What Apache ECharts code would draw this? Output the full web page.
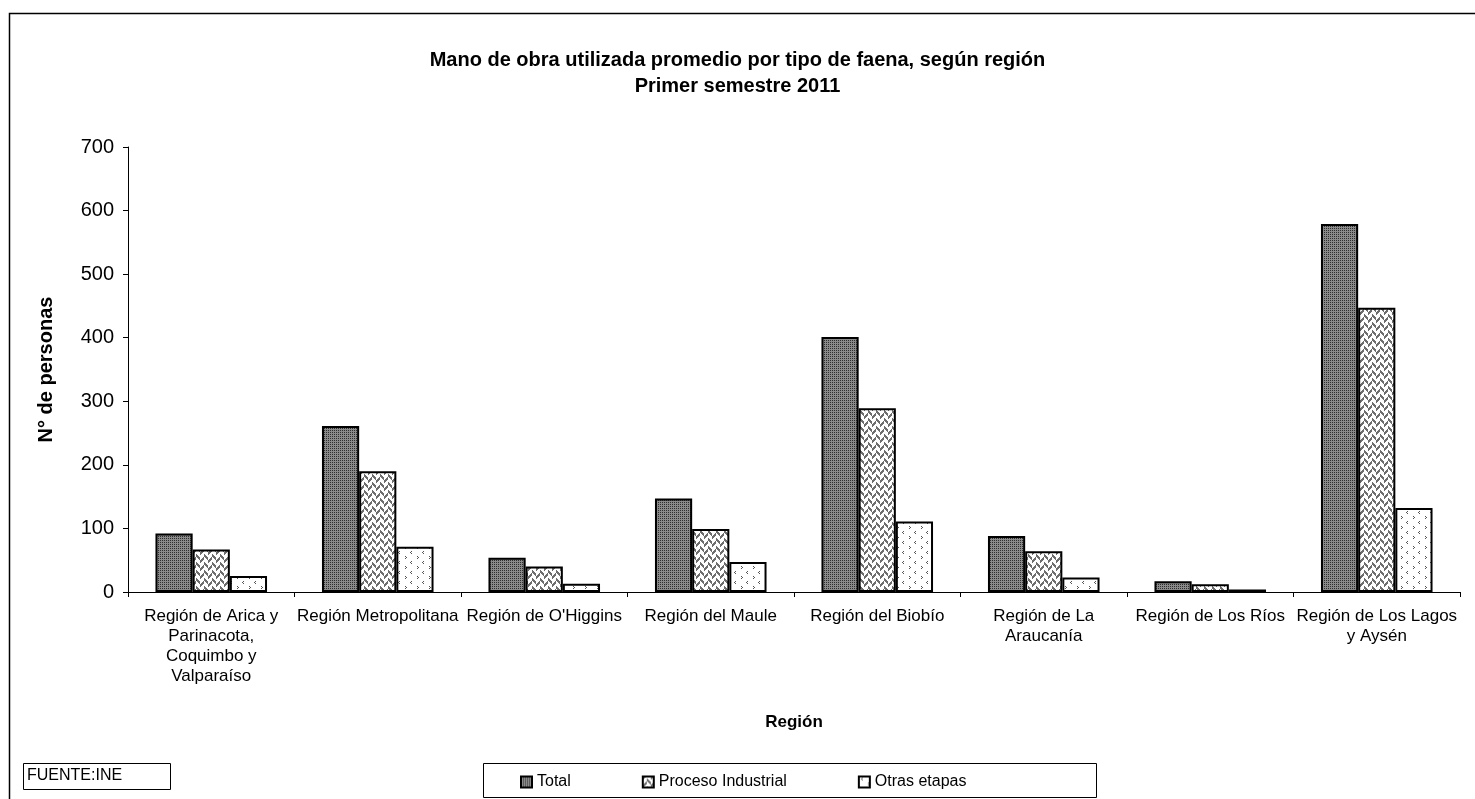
<!DOCTYPE html>
<html>
<head>
<meta charset="utf-8">
<script src="https://cdn.jsdelivr.net/npm/echarts@6/dist/echarts.min.js"></script>
<style>html,body{margin:0;padding:0;background:#fff}#c{width:1475px;height:799px}</style>
</head>
<body>
<div id="c"></div>
<script>
const categories = [
  'Región de Arica y\nParinacota,\nCoquimbo y\nValparaíso',
  'Región Metropolitana',
  "Región de O'Higgins",
  'Región del Maule',
  'Región del Biobío',
  'Región de La\nAraucanía',
  'Región de Los Ríos',
  'Región de Los Lagos\ny Aysén'
];
const seriesNames = ['Total', 'Proceso Industrial', 'Otras etapas'];
const total = [92, 261, 54, 147, 401, 88, 17, 579];
const procesoIndustrial = [67, 190, 40, 99, 289, 64, 12, 447];
const otrasEtapas = [25, 71, 13, 47, 111, 23, 4, 132];
const yTicks = { min: 0, max: 700, interval: 100 };

function makePattern(w, h, bg, fg, fn) {
  const c = document.createElement('canvas');
  c.width = w; c.height = h;
  const ctx = c.getContext('2d');
  ctx.fillStyle = bg; ctx.fillRect(0, 0, w, h);
  ctx.fillStyle = fg;
  for (let y = 0; y < h; y++) for (let x = 0; x < w; x++) if (fn(x, y)) ctx.fillRect(x, y, 1, 1);
  return { image: c, repeat: 'repeat' };
}
const patTotal = makePattern(2, 2, '#8a8a8a', '#2e2e2e', (x, y) => x === 0 && y === 0);
const patProceso = makePattern(8, 8, '#ffffff', '#6e6e6e', (x, y) =>
  (x < 4 && ((x + y) % 8 < 3)) || (x >= 4 && (((x - y) % 8 + 8) % 8 < 3)));
const otrasPts = [[3,1],[2,2],[3,3],[9,6],[10,7],[9,8]];
const patOtras = makePattern(12, 10, '#ffffff', '#555555', (x, y) => otrasPts.some(p => p[0] === x && p[1] === y));

const chart = echarts.init(document.getElementById('c'), null, { renderer: 'canvas' });
const barStyle = (pat) => ({ color: pat, borderColor: '#000', borderWidth: 2 });
const font = 'Liberation Sans, Arial, sans-serif';
chart.setOption({
  animation: false,
  backgroundColor: '#fff',
  textStyle: { fontFamily: font, color: '#000' },
  title: {
    text: 'Mano de obra utilizada promedio por tipo de faena, según región\nPrimer semestre 2011',
    left: 'center', top: 42,
    textStyle: { fontFamily: font, fontSize: 20, fontWeight: 'bold', color: '#000', lineHeight: 26 }
  },
  grid: { left: 128, right: 15, top: 147, bottom: 207, containLabel: false },
  legend: {
    data: seriesNames,
    left: 515, top: 769,
    itemWidth: 11, itemHeight: 11, itemGap: 71,
    textStyle: { fontFamily: font, fontSize: 16, color: '#000' },
    icon: 'rect',
    selectedMode: false
  },
  xAxis: {
    type: 'category',
    data: categories,
    name: 'Región',
    nameLocation: 'middle',
    nameGap: 122,
    nameTextStyle: { fontFamily: font, fontSize: 17, fontWeight: 'bold', color: '#000' },
    axisLine: { lineStyle: { color: '#000', width: 1 } },
    axisTick: { show: true, length: 5, lineStyle: { color: '#000' } },
    axisLabel: { interval: 0, fontFamily: font, fontSize: 17, color: '#000', lineHeight: 20, margin: 14 }
  },
  yAxis: {
    type: 'value',
    min: yTicks.min, max: yTicks.max, interval: yTicks.interval,
    name: 'N° de personas',
    nameLocation: 'middle',
    nameGap: 72,
    nameRotate: 90,
    nameTextStyle: { fontFamily: font, fontSize: 20, fontWeight: 'bold', color: '#000' },
    axisLine: { show: true, lineStyle: { color: '#000', width: 1 } },
    axisTick: { show: true, length: 5, lineStyle: { color: '#000' } },
    splitLine: { show: false },
    axisLabel: { fontFamily: font, fontSize: 20, color: '#000', margin: 14 }
  },
  series: [
    { name: seriesNames[0], type: 'bar', data: total, barGap: '0%', barCategoryGap: '33%', itemStyle: barStyle(patTotal), emphasis: { disabled: true } },
    { name: seriesNames[1], type: 'bar', data: procesoIndustrial, barGap: '0%', barCategoryGap: '33%', itemStyle: barStyle(patProceso), emphasis: { disabled: true } },
    { name: seriesNames[2], type: 'bar', data: otrasEtapas, barGap: '0%', barCategoryGap: '33%', itemStyle: barStyle(patOtras), emphasis: { disabled: true } }
  ],
  graphic: [
    { type: 'rect', shape: { x: 9.5, y: 13.5, width: 1490, height: 820 }, style: { fill: null, stroke: '#000', lineWidth: 1.5 }, silent: true, z: -1 },
    { type: 'rect', shape: { x: 483.5, y: 763.5, width: 613, height: 34 }, style: { fill: null, stroke: '#000', lineWidth: 1 }, silent: true },
    { type: 'rect', shape: { x: 23.5, y: 763.5, width: 147, height: 26 }, style: { fill: null, stroke: '#000', lineWidth: 1 }, silent: true },
    { type: 'text', x: 27, y: 776, style: { text: 'FUENTE:INE', font: '16px ' + font, fill: '#000', verticalAlign: 'middle' }, silent: true }
  ]
});
</script>
</body>
</html>
